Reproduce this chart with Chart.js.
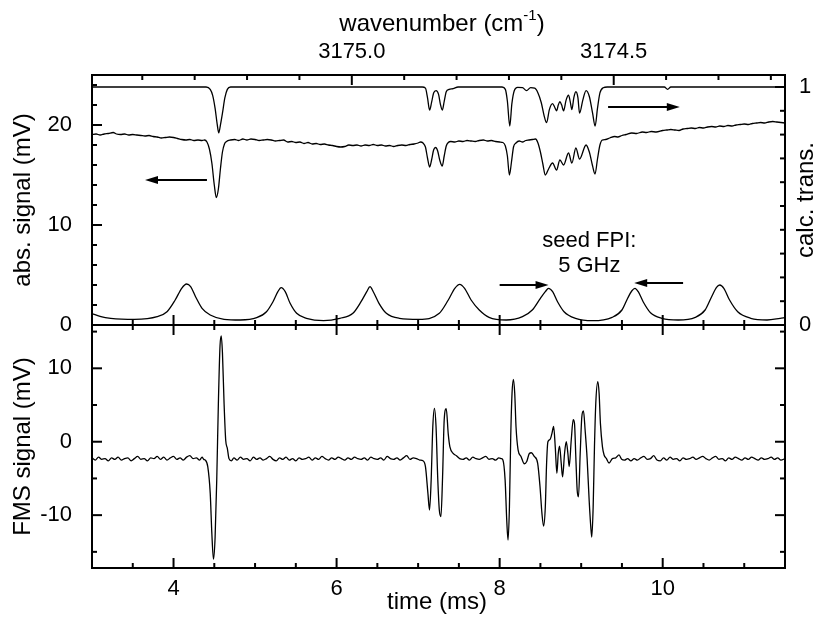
<!DOCTYPE html>
<html>
<head>
<meta charset="utf-8">
<script src="https://cdn.jsdelivr.net/npm/chart.js@4.4.1/dist/chart.umd.min.js"></script>
<style>
  body { margin: 0; background: #fff; }
  canvas { display: block; }
</style>
</head>
<body>
<canvas id="plot" width="814" height="622"></canvas>
<script>
// calculated transmission (right axis, top panel)
const transT = [3.0,4.40,4.45,4.48,4.51,4.535,4.555,4.575,4.60,4.63,4.66,4.70,
  7.05,7.09,7.115,7.141,7.165,7.19,7.22,7.25,7.275,7.297,7.32,7.345,7.38,7.43,7.49,
  8.03,8.07,8.095,8.124,8.15,8.18,8.22,8.28,8.33,8.38,8.43,8.47,8.51,8.545,8.576,8.61,
  8.649,8.675,8.698,8.72,8.739,8.76,8.784,8.815,8.845,8.865,8.886,8.91,8.935,8.96,8.98,
  9.02,9.06,9.10,9.14,9.171,9.20,9.23,9.27,9.32,10.02,10.06,10.10,11.5]
const transV = [1,1,0.99,0.965,0.91,0.845,0.807,0.84,0.89,0.955,0.99,1,
  1,0.995,0.955,0.903,0.935,0.975,0.985,0.97,0.925,0.903,0.94,0.98,0.99,0.993,1,
  1,0.99,0.94,0.836,0.93,0.985,0.998,0.997,0.985,0.997,0.995,0.975,0.935,0.88,0.85,0.905,
  0.93,0.915,0.9,0.925,0.938,0.925,0.9,0.945,0.966,0.94,0.905,0.955,0.98,0.955,0.89,
  0.945,0.985,0.96,0.89,0.836,0.91,0.975,0.997,1,1,0.99,1,1]

// absorption signal (mV)
const absT = [3.00,3.05,3.10,3.15,3.20,3.26,3.30,3.35,3.40,3.45,
  3.50,3.55,3.60,3.65,3.70,3.75,3.80,3.85,3.90,3.95,
  4.00,4.05,4.10,4.15,4.20,4.25,4.30,4.35,4.38,4.41,
  4.44,4.47,4.50,4.525,4.55,4.575,4.60,4.625,4.65,4.70,
  4.75,4.80,4.85,4.90,4.95,5.00,5.05,5.10,5.15,5.20,
  5.25,5.30,5.35,5.40,5.45,5.50,5.55,5.60,5.65,5.70,
  5.75,5.80,5.85,5.90,5.95,6.00,6.05,6.10,6.15,6.20,
  6.25,6.30,6.35,6.40,6.45,6.50,6.55,6.60,6.65,6.70,
  6.75,6.80,6.85,6.90,6.95,7.00,7.03,7.06,7.09,7.115,
  7.141,7.165,7.19,7.215,7.24,7.265,7.296,7.32,7.345,7.37,
  7.40,7.45,7.50,7.55,7.60,7.65,7.70,7.75,7.80,7.85,
  7.90,7.95,8.00,8.04,8.07,8.095,8.12,8.145,8.17,8.20,
  8.24,8.28,8.32,8.36,8.40,8.44,8.47,8.50,8.53,8.56,
  8.60,8.649,8.698,8.739,8.784,8.845,8.886,8.935,8.98,9.06,
  9.10,9.14,9.17,9.20,9.23,9.26,9.30,9.35,9.41,9.45,
  9.50,9.55,9.62,9.68,9.75,9.80,9.86,9.92,10.00,10.05,
  10.10,10.15,10.20,10.25,10.30,10.35,10.40,10.45,10.50,10.55,
  10.60,10.65,10.70,10.75,10.80,10.85,10.90,10.95,11.00,11.05,
  11.10,11.15,11.20,11.25,11.30,11.35,11.40,11.45,11.50]
const absV = [19.05,19.1,19.0,19.1,19.15,19.25,19.1,19.05,19.1,19.0,
  19.05,19.0,18.95,18.9,18.95,18.85,18.8,18.7,18.75,18.8,
  18.75,18.65,18.55,18.5,18.55,18.45,18.5,18.45,18.5,18.3,
  17.6,16.2,14.0,12.75,13.6,15.6,17.3,18.1,18.35,18.5,
  18.55,18.45,18.6,18.5,18.6,18.55,18.45,18.5,18.55,18.5,
  18.4,18.45,18.5,18.3,18.35,18.25,18.3,18.15,18.25,18.1,
  18.15,18.05,18.1,18.0,17.95,17.85,17.8,17.85,18.0,17.95,
  18.0,17.9,18.0,17.95,18.05,17.95,18.0,17.9,17.95,17.85,
  17.95,18.0,17.95,18.05,18.1,18.2,18.3,18.2,17.8,16.7,
  15.8,16.5,17.5,17.75,17.4,16.5,15.9,16.9,17.9,18.25,
  18.35,18.3,18.4,18.35,18.45,18.4,18.35,18.45,18.5,18.4,
  18.45,18.35,18.3,18.25,17.9,16.9,15.0,16.3,17.8,18.2,
  18.4,18.3,18.45,18.5,18.55,18.6,18.2,17.3,16.1,15.0,
  15.6,16.2,15.5,16.5,16.0,17.2,16.2,17.7,16.6,18.0,
  17.3,15.9,15.1,16.6,18.0,18.5,18.55,18.7,18.85,18.8,
  18.95,19.05,19.2,19.15,19.3,19.25,19.35,19.3,19.45,19.5,
  19.55,19.5,19.45,19.6,19.65,19.7,19.65,19.75,19.7,19.8,
  19.85,19.8,19.9,19.85,19.95,19.9,20.0,20.05,20.1,20.05,
  20.15,20.2,20.25,20.2,20.3,20.35,20.3,20.25,20.2]

// seed FPI fringes (mV)
const fpiT = [3.00,3.11,3.23,3.52,3.80,3.92,4.02,4.10,4.16,4.21,4.27,4.35,4.45,4.62,4.82,
  5.02,5.14,5.22,5.28,5.32,5.37,5.43,5.51,5.63,5.84,6.04,6.20,6.30,6.37,6.41,6.45,6.52,6.61,6.77,
  7.01,7.26,7.37,7.45,7.51,7.57,7.65,7.75,7.87,8.08,8.28,8.40,8.50,8.56,8.60,8.65,8.71,8.79,8.93,
  9.14,9.38,9.50,9.57,9.62,9.66,9.70,9.76,9.85,9.99,10.19,10.40,10.52,10.60,10.66,10.70,10.75,
  10.82,10.92,11.08,11.28,11.44,11.50]
const fpiV = [1.15,0.83,0.67,0.57,0.83,1.33,2.5,3.67,4.1,3.83,2.83,1.67,1.0,0.57,0.5,
  0.73,1.33,2.33,3.33,3.73,3.33,2.17,1.17,0.67,0.43,0.67,1.17,2.33,3.33,3.83,3.33,2.17,1.17,0.67,
  0.57,1.17,2.5,3.67,4.07,3.67,2.5,1.5,0.77,0.5,0.83,1.5,2.67,3.33,3.67,3.33,2.33,1.33,0.67,
  0.43,0.77,1.5,2.67,3.4,3.67,3.33,2.33,1.23,0.67,0.5,0.77,1.5,2.83,3.77,4.0,3.67,
  2.5,1.33,0.67,0.5,0.67,0.75]

// FMS signal (mV), bottom panel
const fmsT = [3.00,3.04,3.08,3.12,3.16,3.20,3.24,3.28,3.32,3.36,
  3.40,3.44,3.48,3.52,3.56,3.60,3.64,3.68,3.72,3.76,
  3.80,3.84,3.88,3.92,3.96,4.00,4.04,4.08,4.12,4.16,
  4.20,4.24,4.28,4.32,4.35,4.37,4.39,4.42,4.45,4.47,
  4.49,4.51,4.53,4.55,4.57,4.585,4.60,4.62,4.64,4.66,
  4.68,4.71,4.74,4.78,4.82,4.86,4.90,4.94,4.98,5.02,
  5.06,5.10,5.14,5.18,5.22,5.26,5.30,5.34,5.38,5.42,
  5.46,5.50,5.54,5.58,5.62,5.66,5.70,5.74,5.78,5.82,
  5.86,5.90,5.94,5.98,6.02,6.06,6.10,6.14,6.18,6.22,
  6.26,6.30,6.34,6.38,6.42,6.46,6.50,6.54,6.58,6.62,
  6.66,6.70,6.74,6.78,6.82,6.86,6.90,6.94,6.98,7.02,
  7.06,7.09,7.12,7.14,7.16,7.18,7.20,7.22,7.24,7.26,
  7.28,7.30,7.32,7.345,7.37,7.39,7.43,7.47,7.51,7.55,
  7.59,7.63,7.67,7.71,7.75,7.79,7.83,7.87,7.91,7.95,
  7.99,8.02,8.04,8.067,8.087,8.103,8.12,8.136,8.152,8.169,
  8.185,8.201,8.226,8.262,8.303,8.332,8.364,8.389,8.425,8.466,
  8.495,8.519,8.539,8.56,8.576,8.592,8.617,8.641,8.662,8.682,
  8.702,8.719,8.735,8.755,8.772,8.796,8.817,8.837,8.853,8.878,
  8.902,8.918,8.935,8.951,8.967,8.988,9.008,9.028,9.049,9.073,
  9.098,9.118,9.13,9.147,9.163,9.179,9.204,9.22,9.236,9.261,
  9.281,9.31,9.342,9.383,9.424,9.464,9.497,9.53,9.57,9.61,
  9.65,9.69,9.73,9.77,9.81,9.85,9.89,9.93,9.97,10.01,
  10.05,10.09,10.13,10.17,10.21,10.25,10.29,10.33,10.37,10.41,
  10.45,10.49,10.53,10.57,10.61,10.65,10.69,10.73,10.77,10.81,
  10.85,10.89,10.93,10.97,11.01,11.05,11.09,11.13,11.17,11.21,
  11.25,11.29,11.33,11.37,11.41,11.45,11.50]
const fmsV = [-2.2,-2.5,-2.1,-2.4,-2.3,-2.6,-2.2,-2.4,-2.1,-2.5,
  -2.3,-2.2,-2.6,-2.3,-2.0,-2.4,-2.3,-2.6,-2.2,-2.3,
  -2.0,-2.4,-2.1,-2.5,-2.2,-2.0,-2.4,-2.2,-2.5,-2.1,
  -1.9,-2.3,-2.2,-2.5,-2.1,-2.4,-2.5,-3.4,-7.0,-12.5,
  -16.0,-13.0,-5.2,5.2,13.0,14.4,12.1,5.2,0.2,-0.9,
  -2.3,-2.6,-2.2,-2.5,-2.1,-2.4,-2.3,-2.6,-2.1,-2.4,
  -2.2,-2.5,-2.3,-2.0,-2.4,-2.6,-2.2,-2.4,-2.1,-2.5,
  -2.3,-2.6,-2.2,-2.4,-2.3,-2.1,-2.5,-2.2,-2.4,-2.0,
  -2.3,-2.5,-2.2,-2.4,-2.1,-2.3,-2.5,-2.2,-2.4,-2.1,
  -2.3,-2.4,-2.2,-2.5,-2.1,-2.3,-2.4,-2.2,-2.5,-2.0,
  -2.3,-2.4,-2.2,-2.5,-2.2,-1.9,-2.4,-2.2,-2.3,-2.5,
  -2.6,-3.4,-7.0,-9.3,-5.2,2.0,4.55,2.0,-4.8,-9.3,
  -10.2,-4.8,3.0,4.5,1.0,-0.7,-1.6,-1.9,-2.3,-2.4,
  -2.2,-2.5,-2.1,-2.3,-2.4,-2.2,-2.0,-2.4,-2.3,-2.5,
  -2.2,-2.3,-2.5,-5.2,-10.7,-13.4,-8.9,0.7,6.6,8.5,
  6.6,2.0,-1.1,-2.0,-3.0,-2.7,-1.6,-1.5,-2.0,-2.9,
  -6.1,-9.8,-11.5,-8.9,-2.9,0.0,0.3,1.1,2.1,-0.7,
  -4.3,-1.6,-0.6,-2.9,-4.8,-1.6,0.0,-1.6,-3.4,0.2,
  3.0,2.5,-2.3,-6.6,-7.5,-1.6,3.4,4.2,1.5,-2.3,
  -8.0,-11.6,-13.0,-8.9,-0.7,5.2,8.2,6.6,2.5,-0.7,
  -1.8,-2.3,-2.9,-2.3,-2.2,-1.8,-2.4,-2.5,-2.3,-2.6,
  -2.3,-2.5,-2.2,-2.0,-2.4,-2.3,-1.9,-2.5,-2.6,-2.2,
  -2.5,-2.1,-2.4,-2.3,-2.6,-2.2,-2.4,-2.3,-2.1,-2.4,
  -2.2,-2.0,-2.3,-2.5,-2.2,-2.0,-2.4,-2.3,-2.6,-2.2,
  -2.4,-2.1,-2.3,-2.5,-2.2,-2.4,-2.1,-2.3,-2.5,-2.2,
  -2.4,-2.3,-2.1,-2.4,-2.2,-2.5,-2.3]

// tick values
const timeMajor = [4, 6, 8, 10]
const timeMinor = [3.5, 4.5, 5, 5.5, 6.5, 7, 7.5, 8.5, 9, 9.5, 10.5, 11]
const waveMajor = [3175.0, 3174.5]
const waveMinor = [3175.4, 3175.3, 3175.2, 3175.1, 3174.9, 3174.8, 3174.7, 3174.6, 3174.4, 3174.3, 3174.2]
const absMajor = [0, 10, 20]
const absMinor = [2, 4, 6, 8, 12, 14, 16, 18, 22, 24]
const fmsMajor = [-10, 0, 10]
const fmsMinor = [-15, -5, 5, 15]
const transMajor = [0, 1]
const transMinor = [0.1, 0.2, 0.3, 0.4, 0.5, 0.6, 0.7, 0.8, 0.9]

// arrows: tail time, tail value, tip time, tip value (abs axis units)
const arrows = [[4.41, 14.5, 3.65, 14.5], [9.33, 21.8, 10.21, 21.8], [8.0, 4.0, 8.6, 4.0], [10.25, 4.2, 9.65, 4.2]]

for (const [a, b] of [[transT, transV], [absT, absV], [fpiT, fpiV], [fmsT, fmsV]]) {
    if (a.length !== b.length) throw new Error('length mismatch ' + a.length + ' ' + b.length)
}

const pts = (ts, vs) => ts.map((t, i) => ({x: t, y: vs[i]}))
const FONT = "'Liberation Sans', Arial, sans-serif"
Chart.defaults.font.family = FONT
Chart.defaults.color = '#000'

const trace = (data, axis) => ({
    data: data,
    yAxisID: axis,
    borderColor: '#000',
    borderWidth: 1.3,
    pointRadius: 0,
    cubicInterpolationMode: 'monotone',
    borderJoinStyle: 'round'
})

const fixTicks = vals => scale => { scale.ticks = vals.map(v => ({value: v})) }
const tickFont = {size: 22}

function seg(ctx, x1, y1, x2, y2) {
    ctx.beginPath()
    ctx.moveTo(x1, y1)
    ctx.lineTo(x2, y2)
    ctx.stroke()
}

const decor = {
    id: 'decor',
    afterDraw(chart) {
        const ctx = chart.ctx
        const a = chart.chartArea
        const s = chart.scales
        const mid = s.yAbs.bottom
        ctx.save()
        ctx.strokeStyle = '#000'
        ctx.fillStyle = '#000'
        ctx.lineWidth = 2

        ctx.strokeRect(a.left, a.top, a.right - a.left, a.bottom - a.top)
        seg(ctx, a.left, mid, a.right, mid)

        for (const [vals, len] of [[timeMajor, 10], [timeMinor, 5]]) {
            for (const v of vals) {
                const px = s.x.getPixelForValue(v)
                seg(ctx, px, a.bottom, px, a.bottom - len)
                seg(ctx, px, mid - len, px, mid + len)
            }
        }
        for (const [vals, len] of [[waveMajor, 10], [waveMinor, 5]]) {
            for (const v of vals) {
                const px = s.xw.getPixelForValue(v)
                seg(ctx, px, a.top, px, a.top + len)
            }
        }
        for (const [vals, len] of [[absMajor, 10], [absMinor, 5]]) {
            for (const v of vals) {
                const py = s.yAbs.getPixelForValue(v)
                seg(ctx, a.left, py, a.left + len, py)
            }
        }
        for (const [vals, len] of [[transMajor, 10], [transMinor, 5]]) {
            for (const v of vals) {
                const py = s.yTr.getPixelForValue(v)
                seg(ctx, a.right, py, a.right - len, py)
            }
        }
        for (const [vals, len] of [[fmsMajor, 10], [fmsMinor, 5]]) {
            for (const v of vals) {
                const py = s.yFms.getPixelForValue(v)
                seg(ctx, a.left, py, a.left + len, py)
                seg(ctx, a.right, py, a.right - len, py)
            }
        }

        // arrows
        ctx.lineWidth = 1.8
        for (const [t0, v0, t1, v1] of arrows) {
            const x0 = s.x.getPixelForValue(t0), y0 = s.yAbs.getPixelForValue(v0)
            const x1 = s.x.getPixelForValue(t1), y1 = s.yAbs.getPixelForValue(v1)
            const dir = Math.sign(x1 - x0)
            seg(ctx, x0, y0, x1 - dir * 10, y1)
            ctx.beginPath()
            ctx.moveTo(x1, y1)
            ctx.lineTo(x1 - dir * 13, y1 - 4)
            ctx.lineTo(x1 - dir * 13, y1 + 4)
            ctx.closePath()
            ctx.fill()
        }

        // texts
        ctx.font = '22px ' + FONT
        ctx.textAlign = 'center'
        ctx.textBaseline = 'middle'
        const tx = s.x.getPixelForValue(9.1)
        ctx.fillText('seed FPI:', tx, s.yAbs.getPixelForValue(8.4))
        ctx.fillText('5 GHz', tx, s.yAbs.getPixelForValue(5.9))

        ctx.font = '24px ' + FONT
        ctx.textBaseline = 'alphabetic'
        ctx.fillText('time (ms)', 437, 609)

        // wavenumber title with superscript
        const main1 = 'wavenumber (cm', sup = '-1', main2 = ')'
        ctx.font = '24px ' + FONT
        const w1 = ctx.measureText(main1).width
        const w3 = ctx.measureText(main2).width
        ctx.font = '15px ' + FONT
        const w2 = ctx.measureText(sup).width
        let x = 442 - (w1 + w2 + w3) / 2
        ctx.textAlign = 'left'
        ctx.font = '24px ' + FONT
        ctx.fillText(main1, x, 31)
        ctx.font = '15px ' + FONT
        ctx.fillText(sup, x + w1, 20)
        ctx.font = '24px ' + FONT
        ctx.fillText(main2, x + w1 + w2, 31)

        // right axis title
        ctx.translate(806, (a.top + mid) / 2)
        ctx.rotate(-Math.PI / 2)
        ctx.textAlign = 'center'
        ctx.textBaseline = 'middle'
        ctx.fillText('calc. trans.', 0, 0)
        ctx.restore()
    }
}

new Chart(document.getElementById('plot'), {
    type: 'line',
    data: {
        datasets: [
            trace(pts(transT, transV), 'yTr'),
            trace(pts(absT, absV), 'yAbs'),
            trace(pts(fpiT, fpiV), 'yAbs'),
            trace(pts(fmsT, fmsV), 'yFms')
        ]
    },
    options: {
        responsive: false,
        animation: false,
        layout: {padding: 0},
        plugins: {legend: {display: false}, tooltip: {enabled: false}},
        scales: {
            x: {
                type: 'linear', position: 'bottom', min: 3, max: 11.5,
                grid: {display: false}, border: {display: false},
                afterBuildTicks: fixTicks(timeMajor),
                ticks: {font: tickFont, padding: 0, maxRotation: 0, autoSkip: false, callback: v => String(v)},
                afterFit: s => { s.height = 54 }
            },
            xw: {
                type: 'linear', axis: 'x', position: 'top', reverse: true, min: 3174.173, max: 3175.496,
                grid: {display: false}, border: {display: false},
                afterBuildTicks: fixTicks(waveMajor),
                ticks: {font: tickFont, padding: 2, maxRotation: 0, autoSkip: false, callback: v => v.toFixed(1)},
                afterFit: s => { s.height = 75 }
            },
            yFms: {
                type: 'linear', axis: 'y', position: 'left', stack: 'L', stackWeight: 243, min: -17.2, max: 15.9,
                grid: {display: false}, border: {display: false},
                afterBuildTicks: fixTicks(fmsMajor),
                ticks: {font: tickFont, padding: 12, callback: v => String(v)},
                title: {display: true, text: 'FMS signal (mV)', font: {size: 24}, padding: {top: 9, bottom: 0}},
                afterFit: s => { s.width = 92 }
            },
            yAbs: {
                type: 'linear', axis: 'y', position: 'left', stack: 'L', stackWeight: 250, min: 0, max: 25,
                grid: {display: false}, border: {display: false},
                afterBuildTicks: fixTicks(absMajor),
                ticks: {font: tickFont, padding: 12, callback: v => String(v)},
                title: {display: true, text: 'abs. signal (mV)', font: {size: 24}, padding: {top: 9, bottom: 0}},
                afterFit: s => { s.width = 92 }
            },
            yTr: {
                type: 'linear', axis: 'y', position: 'right', stack: 'R', stackWeight: 250, min: 0, max: 1.0504,
                grid: {display: false}, border: {display: false},
                afterBuildTicks: fixTicks(transMajor),
                ticks: {font: tickFont, padding: 6, callback: v => String(v)},
                afterFit: s => { s.width = 29 }
            },
            yR2: {
                type: 'linear', axis: 'y', position: 'right', stack: 'R', stackWeight: 243, min: -17.2, max: 15.9,
                grid: {display: false}, border: {display: false},
                ticks: {display: false},
                afterFit: s => { s.width = 29 }
            }
        }
    },
    plugins: [decor]
})
</script>
</body>
</html>
